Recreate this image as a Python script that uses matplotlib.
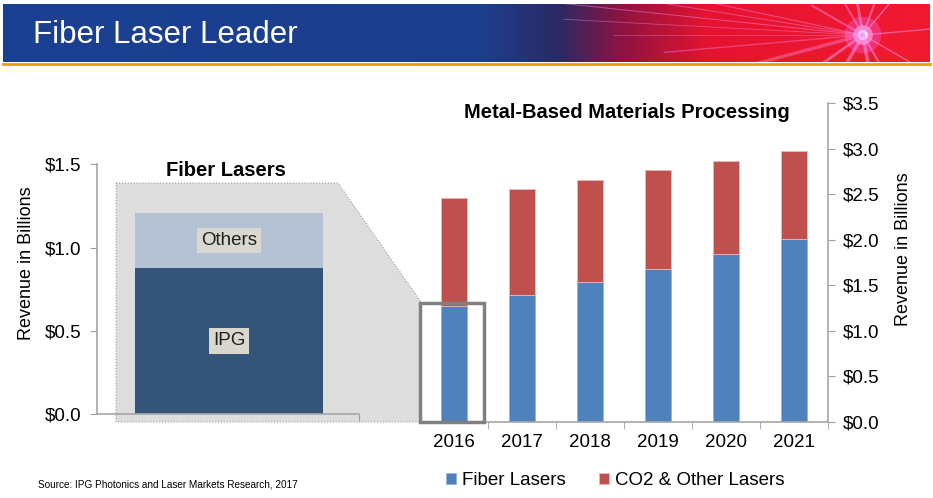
import matplotlib.pyplot as plt
from matplotlib.patches import Polygon, Rectangle
import numpy as np

plt.rcParams['font.family'] = ['Liberation Sans', 'DejaVu Sans']

# dados
years = ['2016', '2017', '2018', '2019', '2020', '2021']
fiber = [1.27, 1.39, 1.53, 1.68, 1.84, 2.01]
co2_other = [1.19, 1.17, 1.12, 1.08, 1.02, 0.96]

fiber_2016_split = ['IPG', 'Others']
fiber_2016_vals = [0.88, 0.33]

right_ticks = [0, 0.5, 1.0, 1.5, 2.0, 2.5, 3.0, 3.5]
left_ticks = [0, 0.5, 1.0, 1.5]

W, H = 933, 498
fig = plt.figure(figsize=(W / 100, H / 100), dpi=100)


def px(x, y):
    return (x / W, 1 - y / H)


# ---- cabeçalho ----
hx = fig.add_axes([3 / W, 1 - 62 / H, 927 / W, 58 / H])
xs = np.linspace(0, 1, 927)
stops = [0.0, 0.52, 0.60, 0.67, 0.76, 1.0]
cols = np.array([[0x1B, 0x41, 0x93], [0x1C, 0x3E, 0x8C], [0x2A, 0x2A, 0x64],
                 [0x90, 0x12, 0x40], [0xE6, 0x12, 0x30], [0xF2, 0x1A, 0x30]]) / 255
grad = np.stack([np.interp(xs, stops, cols[:, k]) for k in range(3)], axis=-1)
img = np.repeat(grad[None, :, :], 58, axis=0)
hx.imshow(img, aspect='auto', extent=[0, 927, 58, 0])
cx, cy = 860, 31
# raios do laser
for ang, ln, lw, al in [(174, 330, 0.7, 0.45), (177, 300, 0.6, 0.4), (171, 260, 0.7, 0.4),
                        (180, 250, 0.6, 0.35), (168, 200, 0.8, 0.4), (185, 200, 1.0, 0.35),
                        (195, 150, 2.5, 0.35), (215, 60, 2.0, 0.5), (240, 40, 2.5, 0.5),
                        (280, 40, 2.5, 0.5), (300, 45, 1.5, 0.5), (330, 80, 1.0, 0.5),
                        (5, 80, 1.0, 0.5), (50, 60, 1.0, 0.6), (100, 40, 2.0, 0.5),
                        (120, 40, 1.5, 0.4), (150, 60, 1.5, 0.4), (70, 40, 1.5, 0.5)]:
    a = np.deg2rad(ang)
    hx.plot([cx, cx + ln * np.cos(a)], [cy, cy - ln * np.sin(a)],
            color='#F59AF5', lw=lw, alpha=al, solid_capstyle='butt')
hx.scatter([cx], [cy], s=700, color='#FF60E0', alpha=0.35, edgecolors='none')
hx.scatter([cx], [cy], s=200, color='#FFB0FF', alpha=0.6, edgecolors='none')
hx.scatter([cx], [cy], s=50, color='white', alpha=1, edgecolors='none')
hx.set_xlim(0, 927)
hx.set_ylim(58, 0)
hx.axis('off')
hx.text(30, 31, 'Fiber Laser Leader', color='white', fontsize=22.5, va='center')
fig.add_artist(plt.Line2D([3 / W, 930 / W], [1 - 64 / H, 1 - 64 / H],
                          color='#E8A000', lw=2))

# ---- gráfico da direita ----
ax = fig.add_axes([420 / W, 1 - 421.7 / H, 408 / W, 318.7 / H])
ax.patch.set_alpha(0)
xi = np.arange(len(years))
ax.bar(xi, fiber, width=0.39, color='#4F81BD', edgecolor='#95B3D7', lw=0.6,
       label='Fiber Lasers')
ax.bar(xi, co2_other, bottom=fiber, width=0.39, color='#C0504D',
       edgecolor='#E6B9B8', lw=0.6, label='CO2 & Other Lasers')
ax.set_xlim(-0.5, len(years) - 0.5)
ax.set_ylim(0, 3.5)
ax.set_yticks(right_ticks)
ax.set_yticklabels([f'${v:.1f}' for v in right_ticks], fontsize=13.5)
ax.yaxis.tick_right()
ax.yaxis.set_label_position('right')
ax.set_ylabel('Revenue in Billions', fontsize=13)
ax.yaxis.set_label_coords(1.164, 0.541)
ax.set_xticks(xi)
ax.set_xticklabels(years, fontsize=13.5)
ax.set_xticks(np.arange(len(years)) + 0.5, minor=True)
ax.tick_params(axis='x', which='major', length=0, pad=9)
ax.tick_params(axis='x', which='minor', length=5, color='#A0A0A0')
ax.tick_params(axis='y', length=5, color='#A0A0A0', pad=6)
for s in ['top', 'left']:
    ax.spines[s].set_visible(False)
for s in ['bottom', 'right']:
    ax.spines[s].set_color('#A6A6A6')
    ax.spines[s].set_linewidth(1.2)
ax.text(0.507, 0.969, 'Metal-Based Materials Processing', transform=ax.transAxes,
        fontsize=14.5, fontweight='bold', ha='center', va='center')
ax.legend(loc='upper center', bbox_to_anchor=(0.478, -0.105), ncol=2, frameon=False,
          fontsize=13.5, handlelength=0.55, handleheight=0.55, handletextpad=0.3,
          columnspacing=1.8)
# caixa de destaque 2016
ax.add_patch(Rectangle((-0.5, 0), 0.94, 1.30, fill=False, edgecolor='#808080',
                       lw=2.5, zorder=5, clip_on=False))

# ---- gráfico da esquerda ----
lx = fig.add_axes([97 / W, 1 - 414.3 / H, 262 / W, 250 / H])
lx.patch.set_alpha(0)
lx.bar([0], [fiber_2016_vals[0]], width=0.72, color='#355479')
lx.bar([0], [fiber_2016_vals[1]], bottom=[fiber_2016_vals[0]], width=0.72,
       color='#B4C2D4')
lbox = dict(facecolor='#D8D8CE', edgecolor='none', pad=3)
lx.text(0, fiber_2016_vals[0] / 2, fiber_2016_split[0], ha='center', va='center',
        fontsize=13.5, color='#202020', bbox=lbox)
lx.text(0, fiber_2016_vals[0] + fiber_2016_vals[1] / 2, fiber_2016_split[1],
        ha='center', va='center', fontsize=13.5, color='#202020', bbox=lbox)
lx.set_xlim(-0.504, 0.496)
lx.set_ylim(0, 1.5)
lx.set_yticks(left_ticks)
lx.set_yticklabels([f'${v:.1f}' for v in left_ticks], fontsize=13.5)
lx.set_ylabel('Revenue in Billions', fontsize=13)
lx.yaxis.set_label_coords(-0.235, 0.605)
lx.set_xticks([0.496])
lx.set_xticklabels([''])
lx.tick_params(axis='x', length=5, color='#A0A0A0')
lx.tick_params(axis='y', length=5, color='#A0A0A0', pad=6)
for s in ['top', 'right']:
    lx.spines[s].set_visible(False)
for s in ['bottom', 'left']:
    lx.spines[s].set_color('#A6A6A6')
    lx.spines[s].set_linewidth(1.2)
lx.text(0.492, 0.977, 'Fiber Lasers', transform=lx.transAxes, fontsize=14.5,
        fontweight='bold', ha='center', va='center')

# fundo cinza (zoom)
poly = Polygon([px(116, 183), px(338, 183), px(421, 302), px(421, 422), px(116, 422)],
               closed=True, transform=fig.transFigure, facecolor='#DDDDDD',
               edgecolor='#A0A0A0', lw=0.8, ls=':', zorder=-1)
fig.add_artist(poly)

fig.text(38 / W, 1 - 484 / H, 'Source: IPG Photonics and Laser Markets Research, 2017',
         fontsize=7.2, va='center')

fig.savefig('out.png', dpi=100)
